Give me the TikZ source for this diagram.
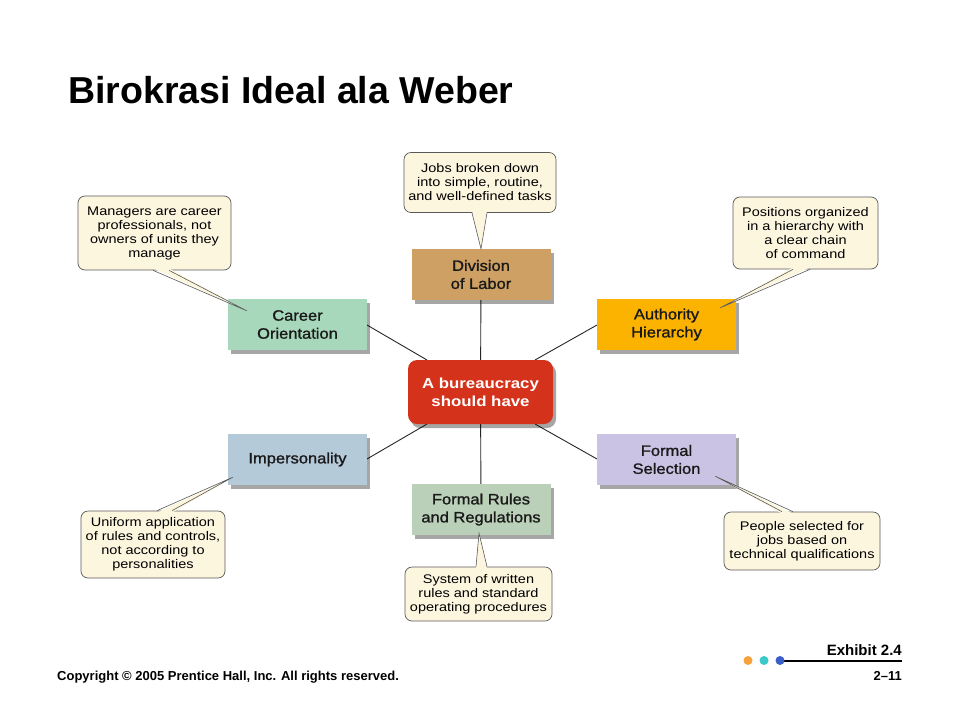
\documentclass[tikz,border=0pt]{standalone}
\usepackage{fontspec}
\setmainfont{Liberation Sans}
\newfontfamily\widefont[FakeStretch=1.16]{Liberation Sans}
\newfontfamily\partfont[FakeStretch=1.1,FakeBold=1.2]{Liberation Sans}
\usetikzlibrary{positioning,shadows,calc}
\definecolor{bureauRed}{HTML}{D5321B}
\definecolor{laborTan}{HTML}{CFA063}
\definecolor{careerGreen}{HTML}{A8D8BC}
\definecolor{authOrange}{HTML}{FBB300}
\definecolor{impBlue}{HTML}{B4CAD9}
\definecolor{selLilac}{HTML}{CBC3E3}
\definecolor{rulesGreen}{HTML}{BBD0B9}
\definecolor{noteFill}{HTML}{FDF6DF}
\definecolor{dotOrange}{HTML}{F7A13B}
\definecolor{dotTeal}{HTML}{3CC8C8}
\definecolor{dotBlue}{HTML}{3A5FC8}

\begin{document}
\begin{tikzpicture}[x=1pt,y=-1pt,
  part/.style={minimum width=139pt,minimum height=51pt,inner sep=2pt,align=center,text=black!90,
    font=\partfont\fontsize{15}{18}\selectfont,
    drop shadow={shadow xshift=3pt,shadow yshift=-4pt,opacity=0.35,fill=black}},
  note/.style={draw=black!65,line width=0.7pt,fill=noteFill,rounded corners=7pt,align=center,
    inner sep=0pt,font=\widefont\fontsize{12.5}{14}\selectfont,text=black},
  spoke/.style={line width=0.9pt,black!85},
  pointer/.style={draw=black!65,line width=0.6pt}]
\useasboundingbox (0,0) rectangle (960,720);

\node[anchor=base west,inner sep=0pt,font=\bfseries\fontsize{37.5}{40}\selectfont] (title) at (68,103) {Birokrasi Ideal ala Weber};

\coordinate (bureaupos) at (480.5,392);
\draw[spoke] (bureaupos) -- (481,274);
\draw[spoke] (bureaupos) -- (481,510);
\draw[spoke] (367,325) -- (427,360);
\draw[spoke] (597,325) -- (535,360);
\draw[spoke] (367,459) -- (427,424);
\draw[spoke] (597,459) -- (535,424);

\node[part,fill=bureauRed,text=white,rounded corners=9pt,minimum width=145pt,minimum height=64pt,
  font=\widefont\bfseries\fontsize{14.5}{18}\selectfont] (bureau) at (bureaupos) {A bureaucracy\\should have};
\node[part,fill=laborTan] (labor) at (481,274.5) {Division\\of Labor};
\node[part,fill=careerGreen] (career) at (297.5,324.5) {Career\\Orientation};
\node[part,fill=authOrange] (authority) at (666.5,324.5) {Authority\\Hierarchy};
\node[part,fill=impBlue] (imperson) at (297.5,459.5) {Impersonality};
\node[part,fill=selLilac] (selection) at (666.5,459.5) {Formal\\Selection};
\node[part,fill=rulesGreen] (rules) at (481,509.5) {Formal Rules\\and Regulations};

\node[note,minimum width=152pt,minimum height=60pt] (labornote) at (480,182.5)
  {Jobs broken down\\into simple, routine,\\and well-defined tasks};
\node[note,minimum width=153pt,minimum height=74pt] (careernote) at (154.5,233)
  {Managers are career\\professionals, not\\owners of units they\\manage};
\node[note,minimum width=145pt,minimum height=72pt] (authnote) at (805.5,233)
  {Positions organized\\in a hierarchy with\\a clear chain\\of command};
\node[note,minimum width=144pt,minimum height=67pt] (impnote) at (153,544.5)
  {Uniform application\\of rules and controls,\\not according to\\personalities};
\node[note,minimum width=147pt,minimum height=54pt] (rulesnote) at (478.5,594)
  {System of written\\rules and standard\\operating procedures};
\node[note,minimum width=156pt,minimum height=58pt] (selnote) at (802,541)
  {People selected for\\jobs based on\\technical qualifications};

\coordinate (labortip) at (labor.north);
\coordinate (careertip) at ($(career.north west)+(19,12)$);
\coordinate (authtip) at ($(authority.north east)+(-16,9)$);
\coordinate (imptip) at ($(imperson.south west)+(5,-8)$);
\coordinate (rulestip) at ($(rules.south)+(-2,-2)$);
\coordinate (seltip) at ($(selection.south east)+(-21,-9)$);

\fill[noteFill] ($(labornote.south)+(-8,-2)$) -- (labortip) -- ($(labornote.south)+(7,-2)$) -- cycle;
\draw[pointer] ($(labornote.south)+(-8,0)$) -- (labortip) -- ($(labornote.south)+(7,0)$);
\fill[noteFill] ($(careernote.south)+(-1.5,-2)$) -- (careertip) -- ($(careernote.south)+(14.5,-2)$) -- cycle;
\draw[pointer] ($(careernote.south)+(-1.5,0)$) -- (careertip) -- ($(careernote.south)+(14.5,0)$);
\fill[noteFill] ($(authnote.south)+(-12.5,-2)$) -- (authtip) -- ($(authnote.south)+(4.5,-2)$) -- cycle;
\draw[pointer] ($(authnote.south)+(-12.5,0)$) -- (authtip) -- ($(authnote.south)+(4.5,0)$);
\fill[noteFill] ($(impnote.north)+(4,2)$) -- (imptip) -- ($(impnote.north)+(19,2)$) -- cycle;
\draw[pointer] ($(impnote.north)+(4,0)$) -- (imptip) -- ($(impnote.north)+(19,0)$);
\fill[noteFill] ($(rulesnote.north)+(-2.5,2)$) -- (rulestip) -- ($(rulesnote.north)+(8.5,2)$) -- cycle;
\draw[pointer] ($(rulesnote.north)+(-2.5,0)$) -- (rulestip) -- ($(rulesnote.north)+(8.5,0)$);
\fill[noteFill] ($(selnote.north)+(-20,2)$) -- (seltip) -- ($(selnote.north)+(-9,2)$) -- cycle;
\draw[pointer] ($(selnote.north)+(-20,0)$) -- (seltip) -- ($(selnote.north)+(-9,0)$);

\node[anchor=base west,inner sep=0pt,font=\bfseries\fontsize{13}{14}\selectfont] (copyright) at (57,680)
  {Copyright © 2005 Prentice Hall, Inc. All rights reserved.};
\node[anchor=base east,inner sep=0pt,font=\bfseries\fontsize{15}{16}\selectfont] (exhibit) at (902,655) {Exhibit 2.4};
\node[anchor=base east,inner sep=0pt,font=\bfseries\fontsize{13}{14}\selectfont] (pageno) at (902,680) {2–11};
\coordinate (rulestart) at (780,660.5);
\draw[line width=2pt] (rulestart) -- (902,660.5);
\fill[dotOrange] (748,660.5) circle (4.5);
\fill[dotTeal] (764,660.5) circle (4.5);
\fill[dotBlue] (rulestart) circle (4.5);
\end{tikzpicture}
\end{document}
